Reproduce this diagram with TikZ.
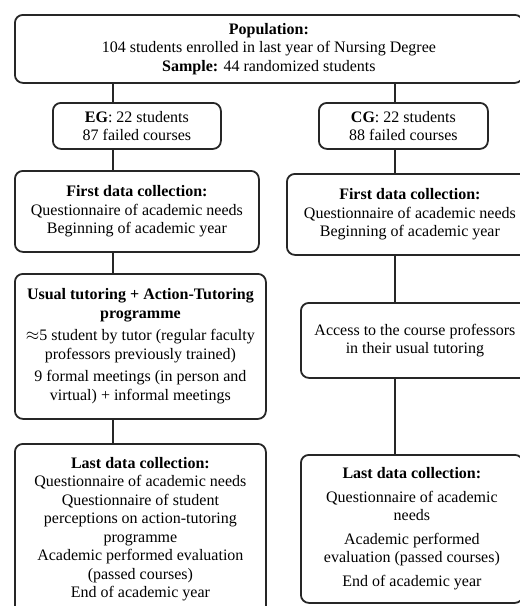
\documentclass[tikz,border=0pt]{standalone}
\usepackage{fontspec}
\setmainfont{Liberation Serif}
\usepackage{tikz}

\tikzset{
  stage/.style={draw=black!85, line width=1.8pt, rounded corners=8pt, align=center, anchor=north west,
    inner sep=2pt, font=\fontsize{16}{18.5}\selectfont},
  link/.style={draw=black!85, line width=1.8pt}
}

\begin{document}
\begin{tikzpicture}[x=1pt,y=-1pt]
\useasboundingbox (0,0) rectangle (520,606);
\clip (0,0) rectangle (520,606);

\node[stage, minimum width=508pt, minimum height=68pt] (pop) at (14,14)
  {\textbf{Population:}\\104 students enrolled in last year of Nursing Degree\\\textbf{Sample:} 44 randomized students};

\node[stage, minimum width=168pt, minimum height=46pt] (eg) at (52,102) {\textbf{EG}: 22 students\\87 failed courses};
\node[stage, minimum width=169pt, minimum height=46pt] (cg) at (318,102) {\textbf{CG}: 22 students\\88 failed courses};

\node[stage, minimum width=244pt, minimum height=81pt] (firsteg) at (14,170)
  {\textbf{First data collection:}\\Questionnaire of academic needs\\Beginning of academic year};
\node[stage, minimum width=246pt, minimum height=81pt] (firstcg) at (286,173)
  {\textbf{First data collection:}\\Questionnaire of academic needs\\Beginning of academic year};

\node[stage, minimum width=251pt, minimum height=145pt] (usual) at (14,273)
  {\textbf{Usual tutoring + Action-Tutoring}\\\textbf{programme}\\[4pt]$\approx$5 student by tutor (regular faculty\\professors previously trained)\\[4pt]9 formal meetings (in person and\\virtual) + informal meetings};
\node[stage, minimum width=228pt, minimum height=75pt] (access) at (300,302)
  {Access to the course professors\\in their usual tutoring};

\node[stage, minimum width=251pt, minimum height=171pt] (lasteg) at (14,443)
  {\textbf{Last data collection:}\\Questionnaire of academic needs\\Questionnaire of student\\perceptions on action-tutoring\\programme\\Academic performed  evaluation\\(passed courses)\\End of academic year};
\node[stage, minimum width=222pt, minimum height=148pt] (lastcg) at (300,454)
  {\textbf{Last data collection:}\\[5pt]Questionnaire of academic\\needs\\[5pt]Academic performed\\evaluation (passed courses)\\[5pt]End of academic year};

\coordinate (lx) at (113,0);
\coordinate (rx) at (395,0);

\draw[link] (pop.south -| lx) -- (eg.north -| lx);
\draw[link] (pop.south -| rx) -- (cg.north -| rx);
\draw[link] (eg.south -| lx) -- (firsteg.north -| lx);
\draw[link] (cg.south -| rx) -- (firstcg.north -| rx);
\draw[link] (firsteg.south -| lx) -- (usual.north -| lx);
\draw[link] (firstcg.south -| rx) -- (access.north -| rx);
\draw[link] (usual.south -| lx) -- (lasteg.north -| lx);
\draw[link] (access.south -| rx) -- (lastcg.north -| rx);
\end{tikzpicture}
\end{document}
